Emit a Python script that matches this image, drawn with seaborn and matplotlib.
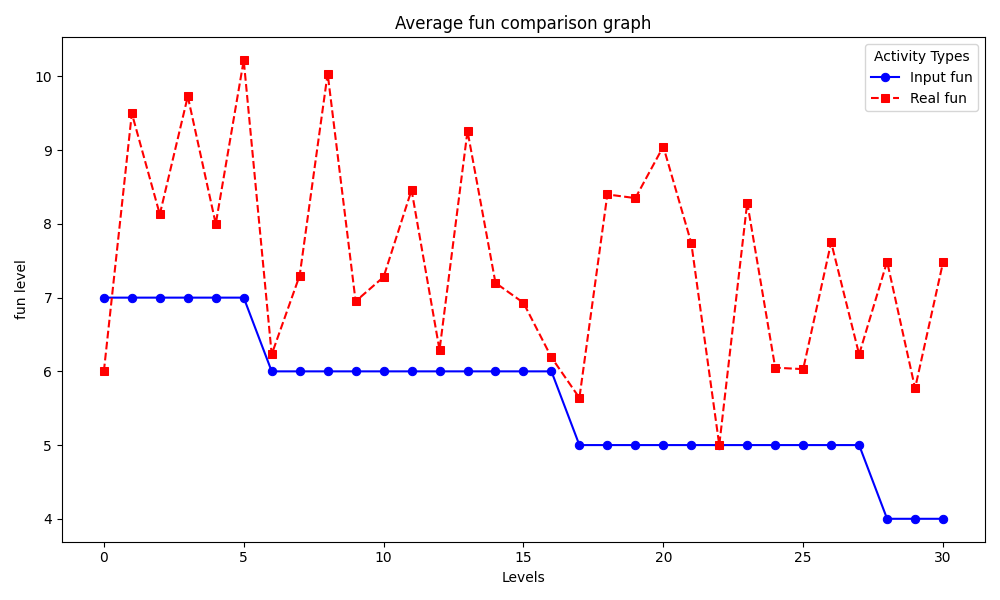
import matplotlib
matplotlib.use("Agg")
import matplotlib.pyplot as plt
import seaborn as sns
import numpy as np

levels = list(range(31))
input_fun = [7, 7, 7, 7, 7, 7,
             6, 6, 6, 6, 6, 6, 6, 6, 6, 6, 6,
             5, 5, 5, 5, 5, 5, 5, 5, 5, 5, 5,
             4, 4, 4]
real_fun = [6.0, 9.5, 8.13, 9.73, 8.0, 10.22, 6.23, 7.3, 10.04, 6.95,
            7.28, 8.46, 6.29, 9.26, 7.2, 6.93, 6.19, 5.64, 8.4, 8.35,
            9.05, 7.74, 5.0, 8.29, 6.05, 6.03, 7.75, 6.23, 7.49, 5.77, 7.48]

fig, ax = plt.subplots(figsize=(10, 6), dpi=100)
sns.lineplot(x=levels, y=input_fun, ax=ax, color="blue", marker="o",
             markeredgecolor="blue", markersize=6, linestyle="-", label="Input fun")
sns.lineplot(x=levels, y=real_fun, ax=ax, color="red", marker="s",
             markeredgecolor="red", markersize=6, linestyle="--", label="Real fun")
ax.set_title("Average fun comparison graph")
ax.set_xlabel("Levels")
ax.set_ylabel("fun level")
ax.legend(title="Activity Types", loc="upper right")
fig.tight_layout()
fig.savefig("out.png")
